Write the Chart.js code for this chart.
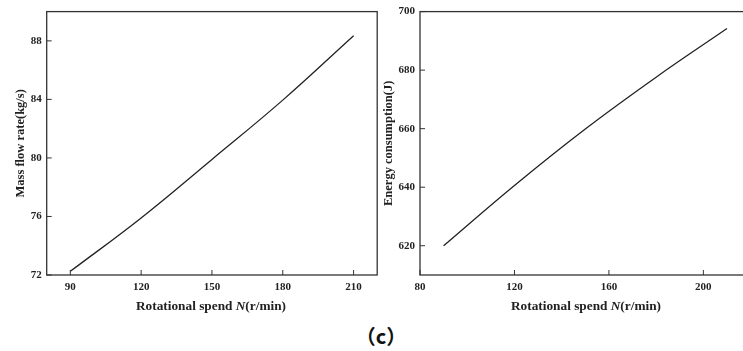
<!DOCTYPE html>
<html>
<head>
<meta charset="utf-8">
<script src="https://cdn.jsdelivr.net/npm/chart.js@4/dist/chart.umd.min.js"></script>
<style>
  html, body { margin: 0; padding: 0; background: #fff; }
  body { width: 743px; height: 351px; position: relative; overflow: hidden; }
  canvas { position: absolute; top: 0; }
  .xtitle { position: absolute; font: bold 13.3px "Liberation Serif", serif; color: #222; white-space: nowrap; transform: translate(-50%, -50%); }
  .cap { position: absolute; left: 381px; top: 335px; transform: translate(-50%, -50%); font: bold 20px "Noto Sans CJK SC", sans-serif; color: #111; }
</style>
</head>
<body>
<canvas id="massFlow" width="380" height="300" style="left:0"></canvas>
<canvas id="energy" width="371" height="300" style="left:380px"></canvas>
<div class="xtitle" style="left:211px; top:306px">Rotational spend <i>N</i>(r/min)</div>
<div class="xtitle" style="left:586px; top:306px">Rotational spend <i>N</i>(r/min)</div>
<div class="cap">（c）</div>
<script>
// rotational speed (r/min)
var speed = [90, 120, 150, 180, 210];
// left panel
var massFlow = [72.25, 75.9, 79.9, 83.95, 88.35];
var massXTicks = [90, 120, 150, 180, 210];
var massYTicks = [72, 76, 80, 84, 88];
// right panel
var energy = [620.0, 640.6, 659.9, 677.6, 694.2];
var energyXTicks = [80, 120, 160, 200];
var energyYTicks = [620, 640, 660, 680, 700];

var tickFont = { family: 'Liberation Serif', size: 11, weight: 'bold' };

// box around plot + short ticks pointing inwards
var framePlugin = {
  id: 'frame',
  afterDraw: function(chart) {
    var ctx = chart.ctx, a = chart.chartArea;
    var xs = chart.scales.x, ys = chart.scales.y;
    ctx.save();
    ctx.strokeStyle = '#333';
    ctx.lineWidth = 1.3;
    ctx.strokeRect(a.left, a.top, a.right - a.left, a.bottom - a.top);
    ctx.lineWidth = 1;
    ctx.beginPath();
    xs.ticks.forEach(function(t) {
      var x = xs.getPixelForValue(t.value);
      ctx.moveTo(x, a.bottom);
      ctx.lineTo(x, a.bottom - 5);
    });
    ys.ticks.forEach(function(t) {
      var y = ys.getPixelForValue(t.value);
      ctx.moveTo(a.left, y);
      ctx.lineTo(a.left + 5, y);
    });
    ctx.stroke();
    ctx.restore();
  }
};

function makeChart(id, xs, ys, xmin, xmax, ymin, ymax, xTicks, yTicks, yTitle, yWidth, titlePad, rightPad) {
  var points = xs.map(function(x, i) { return { x: x, y: ys[i] }; });
  return new Chart(document.getElementById(id), {
    type: 'line',
    data: {
      datasets: [{
        data: points,
        borderColor: '#222',
        borderWidth: 1.3,
        pointRadius: 0,
        tension: 0.4,
        fill: false
      }]
    },
    options: {
      responsive: false,
      animation: false,
      layout: { padding: { top: 9, right: rightPad, left: 0, bottom: 0 } },
      plugins: { legend: { display: false }, tooltip: { enabled: false } },
      scales: {
        x: {
          type: 'linear',
          min: xmin, max: xmax,
          grid: { display: false, drawTicks: false },
          border: { display: false },
          ticks: { font: tickFont, color: '#222', padding: 6, maxRotation: 0 },
          afterBuildTicks: function(s) { s.ticks = xTicks.map(function(v) { return { value: v }; }); },
          afterFit: function(s) { s.height = 25; }
        },
        y: {
          type: 'linear',
          min: ymin, max: ymax,
          grid: { display: false, drawTicks: false },
          border: { display: false },
          ticks: { font: tickFont, color: '#222', padding: 5 },
          afterBuildTicks: function(s) { s.ticks = yTicks.map(function(v) { return { value: v }; }); },
          afterFit: function(s) { s.width = yWidth; },
          title: {
            display: true,
            text: yTitle,
            color: '#222',
            font: { family: 'Liberation Serif', size: 12.5, weight: 'bold' },
            padding: { top: titlePad, bottom: 0 }
          }
        }
      }
    },
    plugins: [framePlugin]
  });
}

makeChart('massFlow', speed, massFlow, 80, 220, 72, 90, massXTicks, massYTicks,
  'Mass flow rate(kg/s)', 46.7, 13, 2.8);
makeChart('energy', speed, energy, 80, 220, 610, 700, energyXTicks, energyYTicks,
  'Energy consumption(J)', 40, 1, 0.4);
</script>
</body>
</html>
